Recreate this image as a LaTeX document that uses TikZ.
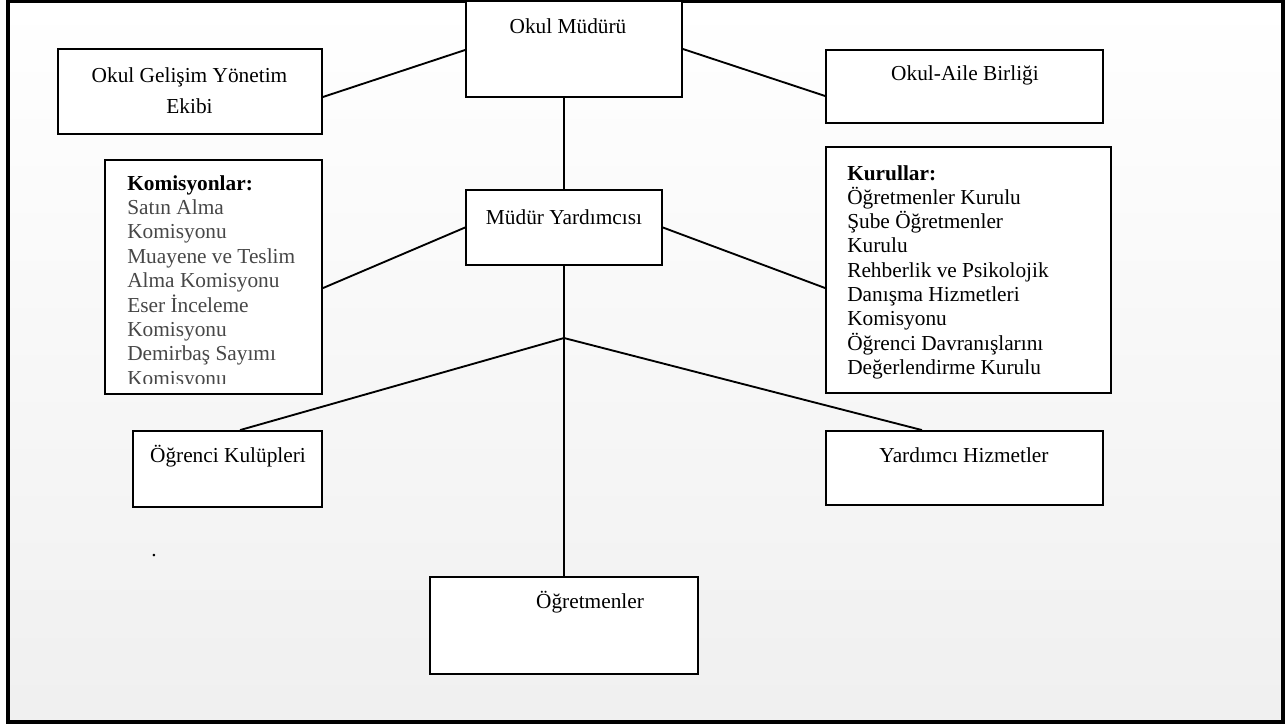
\documentclass[tikz,border=0pt]{standalone}
\usepackage{fontspec}
\setmainfont{Liberation Serif}
\usetikzlibrary{fit}
\begin{document}
\begin{tikzpicture}[x=0.75pt,y=-0.75pt,
  box/.style={draw=black, line width=1.4pt, fill=white, inner sep=0pt},
  conn/.style={line width=1.4pt},
  txt/.style={anchor=base, inner sep=0pt, font=\fontsize{16}{18.3}\selectfont},
  ltxt/.style={anchor=base west, inner sep=0pt, font=\fontsize{16}{18.3}\selectfont}]
\useasboundingbox (0,0) rectangle (1287,726);
\shade[top color=white, bottom color=black!6] (8,1) rectangle (1283,722);
\draw[line width=2.3pt] (8,1) rectangle (1283,722);

% boxes
\node[box, fit={(466,1) (682,97)}] (mudur) {};
\node[box, fit={(58,49) (322,134)}] (ogye) {};
\node[box, fit={(826,50) (1103,123)}] (oab) {};
\node[box, fit={(466,190) (662,265)}] (my) {};
\node[box, fit={(105,160) (322,394)}] (kom) {};
\node[box, fit={(826,147) (1111,393)}] (kur) {};
\node[box, fit={(133,431) (322,507)}] (kul) {};
\node[box, fit={(826,431) (1103,505)}] (yh) {};
\node[box, fit={(430,577) (698,674)}] (ogr) {};

% connectors
\draw[conn] ([yshift=-4.1pt]ogye.east) -- ([yshift=-0.75pt]mudur.west);
\draw[conn] (mudur.east) -- ([yshift=-7.1pt]oab.west);
\draw[conn] (my.north) -- (my.north |- mudur.south);
\draw[conn] ([yshift=-8.3pt]kom.east) -- (my.west);
\draw[conn] (my.east) -- ([yshift=-13.5pt]kur.west);
\draw[conn] (my.south) -- (ogr.north);
\coordinate (br) at (564,338);
\draw[conn] (br) -- ([xshift=9.4pt]kul.north);
\draw[conn] (br) -- ([xshift=-31.9pt]yh.north);

% texts
\node[txt] (tmudur) at (568,33) {Okul Müdürü};
\node[txt] (togye1) at (189.5,82) {Okul Gelişim Yönetim};
\node[txt] (togye2) at (189.5,113) {Ekibi};
\node[txt] (toab) at (965,80) {Okul-Aile Birliği};
\node[txt] (tmy) at (564,224) {Müdür Yardımcısı};
\node[txt] (tkul) at (228,462) {Öğrenci Kulüpleri};
\node[txt] (tyh) at (964,462) {Yardımcı Hizmetler};
\node[txt] (togr) at (590,608) {Öğretmenler};
\node[txt] (tdot) at (154,556) {.};

\begin{scope}
\clip (107,162) rectangle (320,383);
\node[ltxt] (komh) at (127,190) {\textbf{Komisyonlar:}};
\foreach \t [count=\i from 0] in {Satın Alma, Komisyonu, Muayene ve Teslim, Alma Komisyonu, Eser İnceleme, Komisyonu, Demirbaş Sayımı, Komisyonu}
  \node[ltxt, text=black!72] (kom\i) at (127,{214.4+24.4*\i}) {\t};
\end{scope}

\node[ltxt] (kurh) at (847,180) {\textbf{Kurullar:}};
\foreach \t [count=\i from 0] in {Öğretmenler Kurulu, Şube Öğretmenler, Kurulu, Rehberlik ve Psikolojik, Danışma Hizmetleri, Komisyonu, Öğrenci Davranışlarını, Değerlendirme Kurulu}
  \node[ltxt] (kur\i) at (847,{204.3+24.3*\i}) {\t};
\end{tikzpicture}
\end{document}
